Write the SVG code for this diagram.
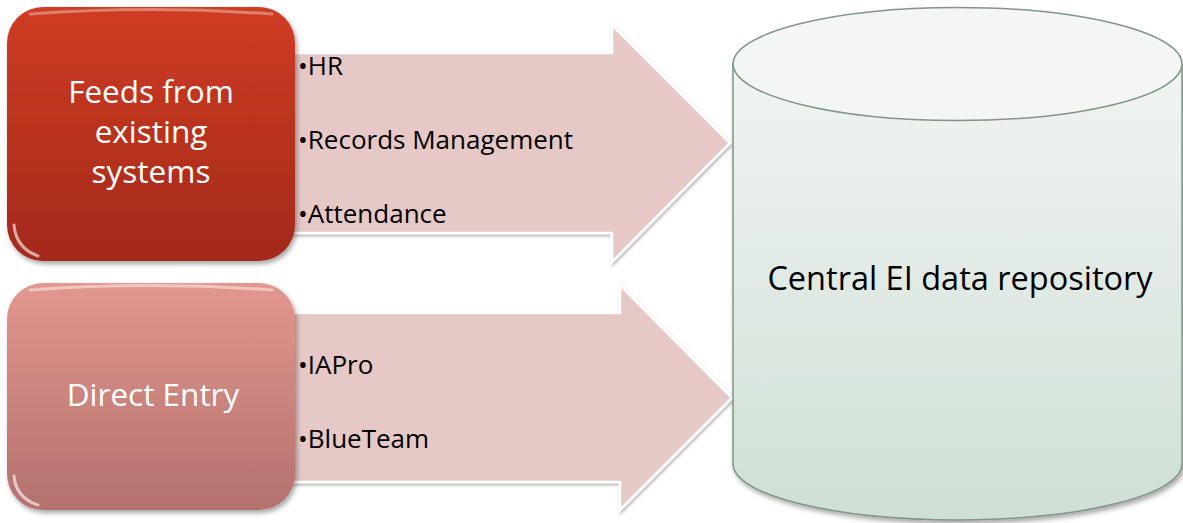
<svg xmlns="http://www.w3.org/2000/svg" width="1183" height="523" viewBox="0 0 1183 523">
  <defs>
    <linearGradient id="gRed" x1="0" y1="0" x2="0" y2="1">
      <stop offset="0" stop-color="#cf3c23"/>
      <stop offset="1" stop-color="#a3291a"/>
    </linearGradient>
    <linearGradient id="gPink" x1="0" y1="0" x2="0" y2="1">
      <stop offset="0" stop-color="#e2978f"/>
      <stop offset="1" stop-color="#b4716d"/>
    </linearGradient>
    <linearGradient id="gCyl" x1="0" y1="0" x2="0" y2="1">
      <stop offset="0" stop-color="#f1f4f2"/>
      <stop offset="1" stop-color="#cfdfd5"/>
    </linearGradient>
    <filter id="shadow" x="-10%" y="-10%" width="125%" height="125%">
      <feDropShadow dx="2" dy="3" stdDeviation="2.5" flood-color="#000" flood-opacity="0.35"/>
    </filter>
    <filter id="soft" x="-10%" y="-10%" width="120%" height="120%">
      <feDropShadow dx="1" dy="2" stdDeviation="1.5" flood-color="#000" flood-opacity="0.3"/>
    </filter>
  </defs>
  <style>
    .box-label { font-family: "Open Sans", "Noto Sans", sans-serif; font-size: 31.5px; fill: #ffffff; text-anchor: middle; }
    .item { font-family: "Open Sans", "Noto Sans", sans-serif; font-size: 26px; fill: #000000; }
    .arrow { fill: #e6c9c6; stroke: #ffffff; stroke-width: 2.5; stroke-linejoin: miter; }
    .cyl { fill: url(#gCyl); stroke: #7e9686; stroke-width: 1.5; }
    .cyl-top { fill: #f3f6f4; stroke: #7e9686; stroke-width: 1.5; }
    .repo-label { font-family: "Open Sans", "Noto Sans", sans-serif; font-size: 32.5px; fill: #000000; text-anchor: middle; }
  </style>

  <!-- flow arrows from the sources into the repository -->
  <g id="connectors">
    <path class="arrow" filter="url(#soft)" d="M280 53 H612 V25 L730 143 L612 262 V233 H280 Z"/>
    <path class="arrow" filter="url(#soft)" d="M280 313 H620 V285 L732 398 L620 510 V482 H280 Z"/>
  </g>

  <g id="feeds-items">
    <text class="item" x="298" y="75">•HR</text>
    <text class="item" x="298" y="149">•Records Management</text>
    <text class="item" x="298" y="223">•Attendance</text>
  </g>
  <g id="direct-items">
    <text class="item" x="298" y="374">•IAPro</text>
    <text class="item" x="298" y="448">•BlueTeam</text>
  </g>

  <!-- source: existing systems -->
  <g id="feeds">
    <rect x="7" y="7" width="288" height="254" rx="36" fill="url(#gRed)" filter="url(#shadow)"/>
    <path d="M30 14 Q151 5 272 14" fill="none" stroke="#ffffff" stroke-opacity="0.35" stroke-width="3" stroke-linecap="round"/>
    <path d="M14 225 Q16 248 38 256" fill="none" stroke="#ffffff" stroke-opacity="0.6" stroke-width="3" stroke-linecap="round"/>
    <text class="box-label" x="151" y="103">Feeds from</text>
    <text class="box-label" x="151" y="143">existing</text>
    <text class="box-label" x="151" y="183">systems</text>
  </g>

  <!-- source: manual entry -->
  <g id="direct">
    <rect x="7" y="283" width="288" height="227" rx="36" fill="url(#gPink)" filter="url(#shadow)"/>
    <path d="M30 290 Q151 281 272 290" fill="none" stroke="#ffffff" stroke-opacity="0.45" stroke-width="3" stroke-linecap="round"/>
    <path d="M14 476 Q16 498 38 505" fill="none" stroke="#ffffff" stroke-opacity="0.6" stroke-width="3" stroke-linecap="round"/>
    <text class="box-label" x="153" y="406">Direct Entry</text>
  </g>

  <!-- destination: the repository cylinder -->
  <g id="repository">
    <path class="cyl" filter="url(#shadow)" d="M733 64 V464 A224.5 56 0 0 0 1182 464 V64 Z"/>
    <ellipse class="cyl-top" cx="957.5" cy="64" rx="224.5" ry="56.5"/>
    <text class="repo-label" x="960" y="290">Central EI data repository</text>
  </g>
</svg>
